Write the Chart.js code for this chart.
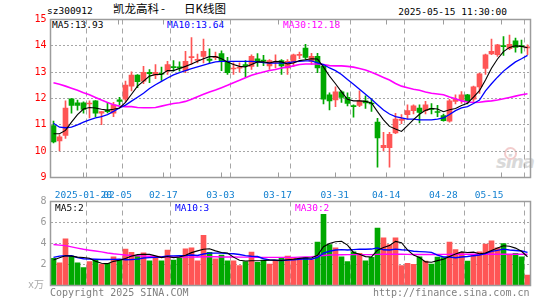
<!DOCTYPE html>
<html><head><meta charset="utf-8">
<script src="https://cdn.jsdelivr.net/npm/chart.js@4.4.1/dist/chart.umd.min.js"></script>
<style>
html,body{margin:0;padding:0;background:#fff;}
#wrap{position:relative;width:545px;height:300px;overflow:hidden;background:#fff;font-family:'DejaVu Sans Mono',monospace;}
.t{position:absolute;white-space:pre;line-height:1;}
canvas{position:absolute;left:0;}
</style></head><body>
<div id="wrap">
  <div class="t" style="left:496px;top:151px;font:italic bold 18px 'DejaVu Sans',sans-serif;color:#d9d9d9;letter-spacing:-1px;">sina</div>
  <div style="position:absolute;left:504px;top:147px;width:9px;height:9px;border:2px solid #f2cccc;border-radius:50%;"></div>
  <div class="t" style="left:47px;top:6px;font-size:9.5px;color:#000;">sz300912</div>
  <div class="t" style="left:113px;top:3px;font-size:11.5px;font-family:'Noto Sans CJK SC',sans-serif;color:#000;">凯龙高科</div>
  <div class="t" style="left:161px;top:3px;font-size:11.5px;font-family:'Noto Sans CJK SC',sans-serif;color:#000;">-</div>
  <div class="t" style="left:184px;top:3px;font-size:11.5px;font-family:'Noto Sans CJK SC',sans-serif;color:#000;">日K线图</div>
  <div class="t" style="right:38px;top:7px;font-size:9.5px;color:#000;">2025-05-15 11:30:00</div>
  <div class="t" style="left:52px;top:19.5px;font-size:9.5px;color:#000;">MA5:13.93</div>
  <div class="t" style="left:167px;top:19.5px;font-size:9.5px;color:#0000ff;">MA10:13.64</div>
  <div class="t" style="left:283px;top:19.5px;font-size:9.5px;color:#ff00ff;">MA30:12.18</div>
  <canvas id="pc" width="545" height="198" style="top:0;"></canvas>
  <canvas id="vc" width="545" height="110" style="top:190px;"></canvas>
  <div class="t" style="left:55px;top:203px;font-size:9.5px;color:#000;">MA5:2</div>
  <div class="t" style="left:175px;top:203px;font-size:9.5px;color:#0000ff;">MA10:3</div>
  <div class="t" style="left:295px;top:203px;font-size:9.5px;color:#ff00ff;">MA30:2</div>
  <div class="t" style="left:28px;top:279.5px;font-size:10px;color:#aaa;font-family:'DejaVu Sans Mono','Noto Sans CJK SC',monospace;">x万</div>
  <div class="t" style="left:50px;top:288px;font-size:10px;color:#808080;">Copyright 2025 SINA.COM</div>
  <div class="t" style="right:15.5px;top:288px;font-size:10px;color:#808080;">http://finance.sina.com.cn</div>
</div>
<script>
// ---- data ----
const dates = ['01-10','01-13','01-14','01-15','01-16','01-17','01-20','01-21','01-22','01-23','01-24','01-27',
'02-05','02-06','02-07','02-10','02-11','02-12','02-13','02-14','02-17','02-18','02-19','02-20','02-21','02-24','02-25','02-26','02-27','02-28',
'03-03','03-04','03-05','03-06','03-07','03-10','03-11','03-12','03-13','03-14','03-17','03-18','03-19','03-20','03-21','03-24','03-25','03-26','03-27','03-28','03-31',
'04-01','04-02','04-03','04-07','04-08','04-09','04-10','04-11','04-14','04-15','04-16','04-17','04-18','04-21','04-22','04-23','04-24','04-25','04-28','04-29','04-30',
'05-06','05-07','05-08','05-09','05-12','05-13','05-14','05-15'];

const opens = [10.97,10.39,10.60,11.99,11.84,11.84,11.79,11.91,11.44,11.55,
11.44,11.95,11.97,12.47,12.89,12.66,12.99,12.89,12.95,13.04,
13.20,13.20,13.06,13.55,13.45,13.60,13.50,13.55,13.71,13.39,
13.12,13.15,13.28,13.22,13.51,13.45,13.24,13.37,13.44,13.16,
13.39,13.64,13.91,13.41,13.60,13.22,12.14,11.95,12.25,12.04,
11.73,11.74,11.91,11.83,11.10,10.13,10.13,10.69,11.17,11.39,
11.54,11.64,11.54,11.62,11.49,11.35,11.14,11.89,11.94,12.14,
11.97,12.44,13.14,13.69,13.66,14.00,13.89,14.19,14.00,13.92];
const highs = [11.14,10.62,11.91,12.00,11.94,11.87,11.91,11.92,11.50,11.85,
11.85,12.04,12.66,13.01,12.91,13.22,13.10,13.29,13.19,13.41,
13.44,13.39,13.79,14.31,13.69,14.26,13.89,13.76,13.81,13.56,
13.35,13.35,13.44,13.66,13.71,13.64,13.48,13.66,13.48,13.48,
13.69,13.76,14.06,13.72,13.72,13.29,12.22,12.44,12.29,12.22,
11.76,12.29,12.10,11.99,11.25,10.72,10.72,11.44,11.39,11.76,
11.76,11.76,11.89,11.81,11.74,11.41,11.97,12.14,12.26,12.16,
12.47,12.97,13.69,14.26,14.06,14.35,14.41,14.29,14.22,14.04];
const lows = [10.31,10.01,10.48,11.44,11.56,11.44,11.26,11.31,11.01,11.45,
11.31,11.76,11.89,12.29,12.41,12.56,12.60,12.75,12.69,12.91,
13.04,13.04,12.98,13.29,13.35,13.35,13.35,13.47,13.06,12.91,
12.91,13.00,12.81,13.10,13.22,13.25,13.10,13.16,12.91,12.91,
13.22,13.51,13.48,13.29,12.98,11.79,11.57,11.69,11.85,11.72,
11.29,11.69,11.62,11.51,9.39,10.01,9.39,10.66,11.04,11.22,
11.41,11.07,11.41,11.41,11.31,11.14,11.10,11.79,11.81,11.79,
11.89,12.19,12.91,13.66,13.60,13.64,13.85,13.76,13.72,13.66];
const closes = [10.35,10.54,11.64,11.74,11.74,11.59,11.81,11.44,11.50,11.50,
11.76,11.89,12.51,12.89,12.64,12.99,12.94,12.99,12.92,13.29,
13.17,13.15,13.41,13.57,13.49,13.79,13.45,13.60,13.44,12.98,
13.15,13.17,13.25,13.60,13.39,13.42,13.44,13.40,13.24,13.41,
13.66,13.66,13.56,13.60,13.16,11.97,11.91,12.25,12.04,11.81,
11.69,11.91,11.83,11.79,10.50,10.22,10.64,11.22,11.22,11.54,
11.72,11.47,11.76,11.59,11.47,11.16,11.91,11.97,12.14,11.91,
12.44,12.94,13.66,13.79,14.04,13.97,14.06,13.94,13.97,13.94];

const ma5 = [10.66,10.66,10.79,11.10,11.39,11.60,11.66,11.64,11.59,11.56,
11.59,11.64,11.85,12.16,12.47,12.66,12.85,12.91,12.91,13.06,
13.06,13.14,13.22,13.31,13.41,13.51,13.59,13.59,13.51,13.39,
13.29,13.22,13.20,13.29,13.39,13.39,13.35,13.41,13.39,13.31,
13.35,13.44,13.47,13.51,13.50,13.19,12.85,12.56,12.25,11.97,
11.91,11.91,11.89,11.83,11.50,11.19,10.94,10.84,10.75,10.97,
11.20,11.40,11.55,11.62,11.60,11.50,11.57,11.62,11.73,11.82,
12.05,12.30,12.70,13.15,13.50,13.78,13.94,14.00,13.98,13.93];
const ma10 = [11.06,10.91,10.89,10.91,11.00,11.10,11.19,11.26,11.31,11.39,
11.51,11.64,11.75,11.90,12.05,12.20,12.38,12.52,12.65,12.78,
12.90,12.98,13.06,13.13,13.20,13.27,13.33,13.39,13.41,13.41,
13.41,13.41,13.41,13.41,13.39,13.36,13.34,13.34,13.34,13.35,
13.39,13.41,13.43,13.43,13.35,13.29,13.16,13.06,12.91,12.72,
12.54,12.35,12.16,11.97,11.76,11.56,11.41,11.31,11.26,11.22,
11.22,11.19,11.19,11.19,11.22,11.26,11.39,11.54,11.64,11.69,
11.81,11.94,12.29,12.56,12.81,13.04,13.22,13.39,13.51,13.64];
const ma30 = [12.60,12.54,12.47,12.39,12.31,12.22,12.14,12.04,11.94,11.85,
11.76,11.71,11.69,11.69,11.66,11.65,11.65,11.66,11.71,11.76,
11.81,11.84,11.89,11.97,12.07,12.16,12.25,12.32,12.41,12.50,
12.60,12.69,12.79,12.88,12.95,13.01,13.06,13.10,13.16,13.19,
13.24,13.29,13.31,13.31,13.31,13.29,13.25,13.24,13.24,13.22,
13.19,13.14,13.08,13.00,12.90,12.80,12.70,12.57,12.47,12.41,
12.35,12.31,12.25,12.20,12.17,12.14,12.06,11.99,11.91,11.87,
11.85,11.86,11.89,11.91,11.94,11.99,12.04,12.09,12.14,12.18];

const vols = [2.58,2.17,4.44,2.80,2.17,1.70,2.27,2.43,2.02,2.11,
2.74,2.43,3.46,3.15,2.80,3.12,2.36,2.68,2.36,3.37,
2.43,2.74,3.50,3.59,2.36,4.79,3.15,2.55,2.90,2.36,
2.36,1.89,2.27,3.18,2.20,2.43,2.05,2.39,2.58,2.80,
2.65,2.52,2.65,2.45,4.13,6.77,3.90,3.59,2.74,2.27,
3.21,3.06,2.36,2.68,5.48,4.54,3.90,4.54,1.89,2.11,
2.02,2.74,2.33,2.05,2.71,2.65,4.13,3.43,3.15,2.33,
2.90,3.21,3.94,4.25,3.59,4.00,2.90,3.06,2.74,1.00];
const vma5 = [2.43,2.65,2.83,2.80,2.70,2.66,2.60,2.30,2.12,2.08,
2.30,2.40,2.58,2.80,2.94,2.98,2.96,2.82,2.66,2.76,
2.66,2.72,2.88,3.13,3.30,3.45,3.50,3.30,3.15,3.10,
2.70,2.41,2.34,2.36,2.36,2.38,2.42,2.42,2.38,2.45,
2.50,2.58,2.63,2.62,2.88,3.70,4.00,4.17,4.22,3.85,
3.15,2.97,2.75,2.72,3.36,3.62,3.80,4.20,4.07,3.40,
2.90,2.66,2.25,2.22,2.37,2.50,2.77,3.00,3.20,3.14,
3.18,3.02,3.10,3.33,3.58,3.78,3.74,3.56,3.26,2.74];
const vma10 = [2.68,2.80,2.83,2.83,2.65,2.55,2.52,2.50,2.48,2.47,
2.49,2.51,2.45,2.47,2.51,2.62,2.65,2.68,2.72,2.82,
2.82,2.84,2.85,2.90,2.86,3.00,3.08,3.08,3.10,3.04,
3.02,2.95,2.84,2.78,2.76,2.55,2.44,2.40,2.38,2.42,
2.44,2.50,2.55,2.50,2.67,3.08,3.26,3.38,3.42,3.38,
3.42,3.46,3.45,3.47,3.58,3.40,3.38,3.46,3.40,3.37,
3.26,3.23,3.20,3.15,2.90,2.72,2.72,2.64,2.72,2.76,
2.84,2.90,3.05,3.25,3.35,3.46,3.38,3.33,3.28,3.16];
const vma30 = [3.90,3.85,3.80,3.68,3.56,3.45,3.36,3.28,3.20,3.10,
3.02,2.96,2.90,2.86,2.84,2.80,2.78,2.76,2.74,2.72,
2.72,2.70,2.70,2.70,2.72,2.74,2.74,2.74,2.72,2.72,
2.72,2.70,2.70,2.70,2.68,2.68,2.68,2.68,2.68,2.68,
2.68,2.70,2.72,2.75,2.80,2.86,2.90,2.92,2.93,2.94,
2.94,2.94,2.94,2.94,2.96,2.97,2.97,2.98,2.97,2.96,
2.95,2.95,2.95,2.95,2.95,2.96,2.96,2.97,2.97,2.97,
2.97,2.97,2.97,2.97,2.98,2.98,2.98,2.98,2.98,2.98];

const tickDates = ['01-20','02-05','02-17','03-03','03-17','03-31','04-14','04-28','05-15'];
const tickText  = ['2025-01-20','02-05','02-17','03-03','03-17','03-31','04-14','04-28','05-15'];
const priceRange = [9, 15];
const volRange = [0, 8];

// ---- styling ----
const UP = '#ff5555', DOWN = '#00a800';
const FRAME = '#9c9c9c', GRID = '#a6a6a6';
Chart.defaults.font.family = "'DejaVu Sans Mono', monospace";
Chart.defaults.font.size = 9.5;

const tickIdx = tickDates.map(d => dates.indexOf(d));
const colors = closes.map((c, i) => c >= opens[i] ? UP : DOWN);
const TRANS = 'rgba(0,0,0,0)';

// vertical dashed grid at the left edge of each labelled trading day
const vGridPlugin = {
  id: 'vgrid',
  beforeDatasetsDraw(chart) {
    const { ctx, chartArea: a } = chart;
    const xs = chart.scales.x;
    const slot = (a.right - a.left) / dates.length;
    ctx.save();
    ctx.strokeStyle = GRID;
    ctx.lineWidth = 1;
    ctx.setLineDash([5, 4]);
    tickIdx.forEach(k => {
      const x = Math.round(xs.getPixelForValue(k) - slot / 2 - 0.5) + 0.5;
      ctx.beginPath();
      ctx.moveTo(x, a.top);
      ctx.lineTo(x, a.bottom);
      ctx.stroke();
    });
    ctx.restore();
  }
};

const framePlugin = {
  id: 'frame',
  afterDraw(chart) {
    const { ctx, chartArea: a } = chart;
    ctx.save();
    ctx.strokeStyle = FRAME;
    ctx.lineWidth = 1.5;
    ctx.strokeRect(a.left, a.top, a.right - a.left, a.bottom - a.top);
    const xl = chart.scales.xl;
    if (xl) {
      ctx.lineWidth = 1;
      xl.ticks.forEach(t => {
        const x = Math.round(xl.getPixelForValue(t.value)) + 0.5;
        ctx.beginPath();
        ctx.moveTo(x, a.top); ctx.lineTo(x, a.top + 5);
        ctx.moveTo(x, a.bottom - 5); ctx.lineTo(x, a.bottom);
        ctx.stroke();
      });
    }
    ctx.restore();
  }
};

function catAxis() {
  return {
    type: 'category', offset: true,
    grid: { display: false },
    border: { display: false },
    ticks: { display: false },
    afterFit: s => { s.height = 0; }
  };
}

function line(data, color, w) {
  return { type: 'line', data, borderColor: color, borderWidth: w, pointRadius: 0,
           fill: false, tension: 0, order: 0 };
}

const common = {
  responsive: false, animation: false, events: [],
  plugins: { legend: { display: false }, tooltip: { enabled: false } }
};

new Chart(document.getElementById('pc'), {
  type: 'bar',
  data: {
    labels: dates,
    datasets: [
      line(ma5, '#000000', 1.1),
      line(ma10, '#0000ff', 1.3),
      line(ma30, '#ff00ff', 1.6),
      { data: opens.map((o, i) => [o, closes[i]]), backgroundColor: colors, borderWidth: 0,
        barThickness: 5, minBarLength: 1, grouped: false, order: 1 },
      { data: lows.map((l, i) => [l, highs[i]]), backgroundColor: colors, borderWidth: 0,
        barThickness: 1, grouped: false, order: 2 }
    ]
  },
  options: Object.assign({}, common, {
    layout: { padding: { left: 0, right: 14.5, top: 19.5, bottom: 0 } },
    scales: {
      x: catAxis(),
      xl: {
        type: 'linear', position: 'bottom', offset: false, bounds: 'data',
        min: 0.25, max: 84.25,
        afterBuildTicks: s => { s.ticks = tickIdx.map(v => ({ value: v })); },
        ticks: { autoSkip: false, maxRotation: 0, minRotation: 0, padding: 4,
                 color: '#1380d0', font: { size: 9.5 },
                 callback: (v, i) => tickText[i] + (i === tickText.length - 1 ? '    ' : '') },
        grid: { display: false }, border: { display: false },
        afterFit: s => { s.height = 20.5; }
      },
      y: {
        min: priceRange[0], max: priceRange[1],
        ticks: { stepSize: 1, color: '#ff0000', font: { size: 10 }, padding: 4 },
        grid: { drawTicks: false, lineWidth: 1,
                color: c => (c.tick && (c.tick.value === priceRange[0] || c.tick.value === priceRange[1])) ? TRANS : GRID },
        border: { display: false, dash: [2, 2] },
        afterFit: s => { s.width = 50.5; }
      }
    }
  }),
  plugins: [vGridPlugin, framePlugin]
});

new Chart(document.getElementById('vc'), {
  type: 'bar',
  data: {
    labels: dates,
    datasets: [
      line(vma5, '#000000', 1.1),
      line(vma10, '#0000ff', 1.4),
      line(vma30, '#ff00ff', 1.4),
      { data: vols, backgroundColor: colors, borderWidth: 0, barThickness: 5, grouped: false, order: 1 }
    ]
  },
  options: Object.assign({}, common, {
    layout: { padding: { left: 0, right: 14.5, top: 11.5, bottom: 14.5 } },
    scales: {
      x: catAxis(),
      y: {
        min: volRange[0], max: volRange[1],
        ticks: { stepSize: 2, color: '#999999', font: { size: 10 }, padding: 4,
                 callback: v => v === volRange[0] ? '' : v },
        grid: { drawTicks: false, lineWidth: 1,
                color: c => (c.tick && (c.tick.value === volRange[0] || c.tick.value === volRange[1])) ? TRANS : GRID },
        border: { display: false, dash: [2, 2] },
        afterFit: s => { s.width = 50.5; }
      }
    }
  }),
  plugins: [vGridPlugin, framePlugin]
});
</script>
</body></html>
